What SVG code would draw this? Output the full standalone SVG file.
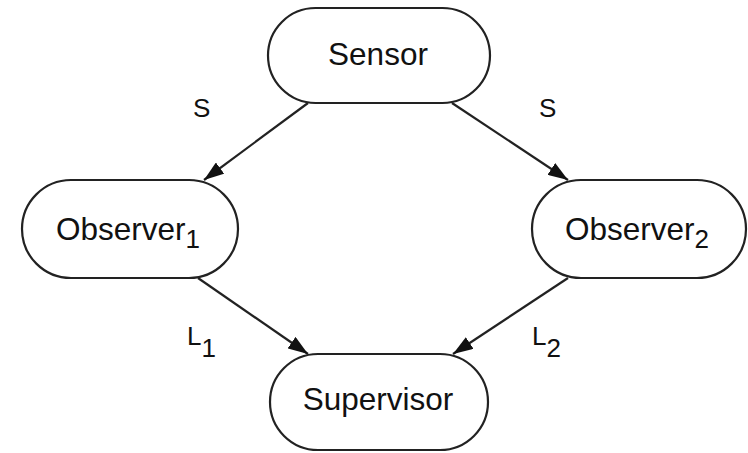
<svg xmlns="http://www.w3.org/2000/svg" width="748" height="453" viewBox="0 0 748 453">
<defs>
<style>
.node{fill:#fff;stroke:#222;stroke-width:2.2}
.t{font-family:"Liberation Sans",Arial,sans-serif;font-size:31.5px;fill:#111;text-anchor:middle}
.lbl{font-family:"Liberation Sans",Arial,sans-serif;font-size:26px;fill:#111}
.sub{font-size:26px}
.edge{stroke:#222;stroke-width:2.2;fill:none;marker-end:url(#ah)}
</style>
<marker id="ah" viewBox="0 0 20 14" refX="20" refY="7" markerWidth="20" markerHeight="14" markerUnits="userSpaceOnUse" orient="auto">
<path d="M0,0 L20,7 L0,14 z" fill="#111"/>
</marker>
</defs>
<rect width="748" height="453" fill="#fff"/>
<g id="connectors">
<line class="edge" x1="308" y1="103" x2="204" y2="180"/>
<line class="edge" x1="452" y1="103" x2="568" y2="180"/>
<line class="edge" x1="198" y1="278" x2="308" y2="354"/>
<line class="edge" x1="568" y1="278" x2="453" y2="354"/>
<text class="lbl" x="193" y="117">S</text>
<text class="lbl" x="539" y="117">S</text>
<text class="lbl" x="187" y="345">L<tspan dy="12" class="sub">1</tspan></text>
<text class="lbl" x="532" y="345">L<tspan dy="12" class="sub">2</tspan></text>
</g>
<g id="sensor">
<rect class="node" x="268" y="8" width="222" height="95" rx="47.5"/>
<text class="t" x="378" y="65">Sensor</text>
</g>
<g id="observer1">
<rect class="node" x="22" y="180" width="216" height="98" rx="49"/>
<text class="t" x="128" y="240">Observer<tspan dy="8" class="sub">1</tspan></text>
</g>
<g id="observer2">
<rect class="node" x="532" y="180" width="214" height="98" rx="49"/>
<text class="t" x="637" y="240">Observer<tspan dy="8" class="sub">2</tspan></text>
</g>
<g id="supervisor">
<rect class="node" x="270" y="354" width="218" height="96" rx="48"/>
<text class="t" x="378" y="410">Supervisor</text>
</g>
</svg>
